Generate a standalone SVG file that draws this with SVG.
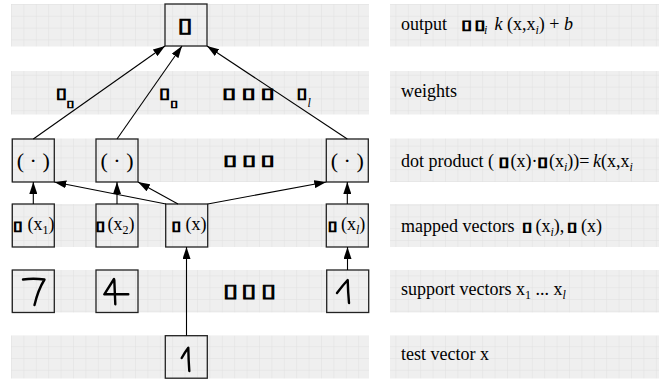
<svg xmlns="http://www.w3.org/2000/svg" width="667" height="380" viewBox="0 0 667 380">
<defs>
<pattern id="grid" patternUnits="userSpaceOnUse" x="11" y="4" width="12.4" height="11.8">
<rect width="12.4" height="11.8" fill="#efefef"/>
<path d="M0,0 H12.4 M0,0 V11.8" stroke="#e0e0e0" stroke-width="1" fill="none"/>
</pattern>
<marker id="arr" markerUnits="userSpaceOnUse" markerWidth="12" markerHeight="8" refX="12" refY="4" orient="auto">
<path d="M0,0 L12,4 L0,8 z" fill="#000"/>
</marker>
</defs>
<style>
.band{fill:url(#grid);}
.box{fill:none;stroke:#222;stroke-width:1.3;}
.t{font-family:"Liberation Serif","Times New Roman",serif;fill:#000;}
.lab{font-size:18px;}
.it{font-style:italic;}
.tf{font-family:"DejaVu Sans",sans-serif;fill:#000;stroke:#000;stroke-width:0.9;text-anchor:middle;}
.tfs{stroke-width:0.6;}
.con line{stroke:#000;stroke-width:1.1;marker-end:url(#arr);}
.dig{fill:none;stroke:#000;stroke-width:2.4;stroke-linecap:round;stroke-linejoin:round;}
</style>
<g id="bands">
<rect class="band" x="11" y="4" width="358" height="42.5"/>
<rect class="band" x="11" y="71" width="358" height="43.5"/>
<rect class="band" x="11" y="138.5" width="358" height="43.5"/>
<rect class="band" x="11" y="204" width="358" height="43"/>
<rect class="band" x="11" y="270" width="358" height="42.5"/>
<rect class="band" x="11" y="335.5" width="358" height="43"/>
<rect class="band" x="390" y="4" width="269" height="42.5"/>
<rect class="band" x="390" y="71" width="269" height="43.5"/>
<rect class="band" x="390" y="138.5" width="269" height="43.5"/>
<rect class="band" x="390" y="204" width="269" height="43"/>
<rect class="band" x="390" y="270" width="269" height="42.5"/>
<rect class="band" x="390" y="335.5" width="269" height="43"/>
</g>
<g id="labels">
<g id="label-output">
<text class="t lab" x="401" y="29.5" xml:space="preserve">output<tspan class="it" font-size="12" x="484" dy="4">i</tspan><tspan class="it" x="494.5" dy="-4">k</tspan> (x,x<tspan class="it" font-size="12" dy="4">i</tspan><tspan dy="-4">) + </tspan><tspan class="it">b</tspan></text>
<text class="tf" font-size="12.9" transform="translate(466.7,29) scale(1.52,1)">▯</text>
<text class="tf" font-size="12.9" transform="translate(480,29) scale(1.52,1)">▯</text>
</g>
<text class="t lab" x="401" y="96.5">weights</text>
<g id="label-dot">
<text class="t lab" x="401" y="166.5" xml:space="preserve">dot product (<tspan x="510.5">(x)·</tspan><tspan x="549">(x</tspan><tspan class="it" font-size="12" dy="4">i</tspan><tspan dy="-4">))=</tspan><tspan class="it" x="593">k</tspan>(x,x<tspan class="it" font-size="12" dy="4">i</tspan></text>
<text class="tf" font-size="12.4" transform="translate(504,166) scale(1.58,1)">▯</text>
<text class="tf" font-size="12.4" transform="translate(542.7,166) scale(1.58,1)">▯</text>
</g>
<g id="label-mapped">
<text class="t lab" x="401" y="231.5" xml:space="preserve">mapped vectors<tspan x="535.5">(x</tspan><tspan class="it" font-size="12" dy="4">i</tspan><tspan dy="-4">),</tspan><tspan x="581">(x)</tspan></text>
<text class="tf" font-size="12.2" transform="translate(527,230.5) scale(1.5,1)">▯</text>
<text class="tf" font-size="12.2" transform="translate(572,230.5) scale(1.5,1)">▯</text>
</g>
<text class="t lab" x="401" y="295" xml:space="preserve">support vectors x<tspan font-size="12" dy="4">1</tspan><tspan dy="-4"> ... x</tspan><tspan class="it" font-size="12" dy="4">l</tspan></text>
<text class="t lab" x="401" y="360">test vector x</text>
</g>
<g id="weights">
<text class="tf" font-size="14.4" transform="translate(61.3,98) scale(1.35,1)">▯</text>
<text class="tf tfs" font-size="9.7" transform="translate(70.3,106.7) scale(1.47,1)">▯</text>
<text class="tf" font-size="14.4" transform="translate(164.5,98) scale(1.35,1)">▯</text>
<text class="tf tfs" font-size="9.7" transform="translate(174,106.7) scale(1.47,1)">▯</text>
<text class="tf" font-size="14.4" transform="translate(229.2,98) scale(1.73,1)">▯</text>
<text class="tf" font-size="14.4" transform="translate(248.5,98) scale(1.73,1)">▯</text>
<text class="tf" font-size="14.4" transform="translate(267.5,98) scale(1.73,1)">▯</text>
<text class="tf" font-size="14.4" transform="translate(302,98) scale(1.3,1)">▯</text>
<text class="t it" x="307.5" y="107" font-size="12">l</text>
</g>
<g id="dots-row3">
<text class="tf" font-size="14.4" transform="translate(230,165) scale(1.73,1)">▯</text>
<text class="tf" font-size="14.4" transform="translate(249,165) scale(1.73,1)">▯</text>
<text class="tf" font-size="14.4" transform="translate(267.7,165) scale(1.73,1)">▯</text>
</g>
<g id="dots-row5">
<text class="tf" font-size="18.1" transform="translate(230,297.3) scale(1.47,1)">▯</text>
<text class="tf" font-size="18.1" transform="translate(248.3,297.3) scale(1.47,1)">▯</text>
<text class="tf" font-size="18.1" transform="translate(268,297.3) scale(1.47,1)">▯</text>
</g>
<g id="output-node">
<rect class="box" x="165" y="4" width="42" height="42"/>
<text class="tf" font-size="19.8" transform="translate(185,31.7) scale(1.38,1)">▯</text>
</g>
<g id="dot1">
<rect class="box" x="12.3" y="139" width="42" height="43"/>
<text class="t" x="33.3" y="167.5" font-size="22" text-anchor="middle" xml:space="preserve">( · )</text>
</g>
<g id="dot2">
<rect class="box" x="96" y="139" width="42" height="43"/>
<text class="t" x="117" y="167.5" font-size="22" text-anchor="middle" xml:space="preserve">( · )</text>
</g>
<g id="dotl">
<rect class="box" x="326.3" y="139" width="42" height="43"/>
<text class="t" x="347.3" y="167.5" font-size="22" text-anchor="middle" xml:space="preserve">( · )</text>
</g>
<g id="map1">
<rect class="box" x="12.3" y="204" width="42" height="43"/>
<text class="tf" font-size="12.4" transform="translate(17.8,229.5) scale(1.41,1)">▯</text>
<text class="t" x="27.5" y="230" font-size="18">(x<tspan font-size="12" dy="4">1</tspan><tspan dy="-4">)</tspan></text>
</g>
<g id="map2">
<rect class="box" x="96" y="204" width="42" height="43"/>
<text class="tf" font-size="12.4" transform="translate(100.3,229.5) scale(1.41,1)">▯</text>
<text class="t" x="107.5" y="230" font-size="18">(x<tspan font-size="12" dy="4">2</tspan><tspan dy="-4">)</tspan></text>
</g>
<g id="mapx">
<rect class="box" x="165.7" y="204" width="42" height="43"/>
<text class="tf" font-size="12.4" transform="translate(176.3,229.5) scale(1.41,1)">▯</text>
<text class="t" x="185.5" y="230" font-size="18">(x)</text>
</g>
<g id="mapl">
<rect class="box" x="326.3" y="204" width="42" height="43"/>
<text class="tf" font-size="12.4" transform="translate(332.5,229.5) scale(1.41,1)">▯</text>
<text class="t" x="341" y="230" font-size="18">(x<tspan class="it" font-size="12" dy="4">l</tspan><tspan dy="-4">)</tspan></text>
</g>
<g id="sv1">
<rect class="box" x="12.3" y="270" width="42" height="42.5"/>
<path class="dig" d="M23,279.5 Q33,278 44.5,279.5 Q38,290 34.5,305"/>
</g>
<g id="sv2">
<rect class="box" x="96" y="270" width="42" height="42.5"/>
<path class="dig" d="M114,279 L104.3,294.3 L128.3,294.3 M114.3,280 L115.3,304.3"/>
</g>
<g id="svl">
<rect class="box" x="326.7" y="270" width="42" height="42.5"/>
<path class="dig" d="M337,293 Q343,285 347.7,280 Q348,292 349,303"/>
</g>
<g id="test">
<rect class="box" x="165.3" y="335.7" width="42" height="42.5"/>
<path class="dig" d="M181.7,358 Q185,352 188.3,347.7 Q188.5,360 189.3,371"/>
</g>
<g id="connectors" class="con">
<line x1="33.3" y1="139" x2="165" y2="46"/>
<line x1="117" y1="139" x2="182" y2="46"/>
<line x1="347.3" y1="139" x2="207" y2="46"/>
<line x1="33.3" y1="204" x2="33.3" y2="182"/>
<line x1="117" y1="204" x2="117" y2="182"/>
<line x1="347.3" y1="204" x2="347.3" y2="182"/>
<line x1="166" y1="204" x2="54.3" y2="182"/>
<line x1="178" y1="204" x2="138" y2="182"/>
<line x1="207.7" y1="204" x2="326.3" y2="182"/>
<line x1="186.5" y1="335.7" x2="186.5" y2="247"/>
<line x1="347.5" y1="270" x2="347.5" y2="247"/>
</g>
</svg>
